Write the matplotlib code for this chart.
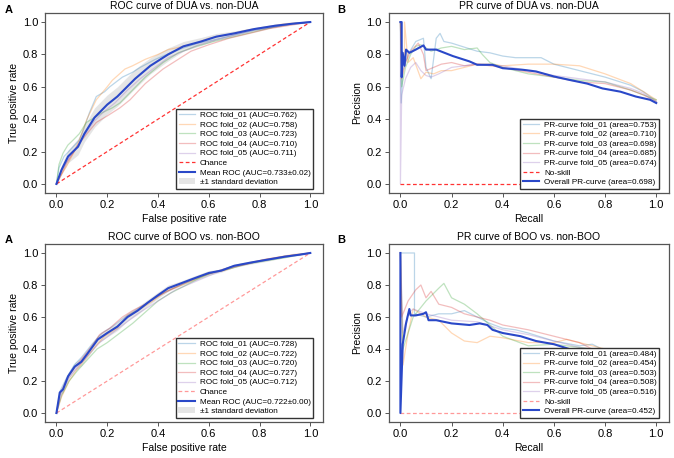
import numpy as np
from matplotlib import pyplot as plt

plt.rcParams['font.family'] = ['Liberation Sans', 'DejaVu Sans']

fold_colors = ['tab:blue', 'tab:orange', 'tab:green', 'tab:red', 'tab:purple']
mean_blue = '#2a48c8'

# ---- ROC, DUA vs non-DUA ----
dua_roc_auc = [0.762, 0.758, 0.723, 0.710, 0.711]
dua_roc_fpr = [
    [0, .01, .03, .06, .09, .11, .13, .157, .19, .21, .26, .3, .33, .39, .45, .5, .56, .62, .7, .78, .86, .93, 1],
    [0, .02, .04, .07, .09, .12, .157, .2, .22, .27, .3, .35, .4, .44, .5, .55, .6, .67, .75, .83, .9, 1],
    [0, .01, .026, .045, .065, .09, .118, .15, .18, .22, .25, .3, .35, .42, .48, .55, .62, .7, .78, .86, .93, 1],
    [0, .02, .04, .07, .09, .12, .157, .2, .22, .25, .29, .32, .35, .42, .48, .53, .6, .68, .76, .84, .92, 1],
    [0, .02, .05, .08, .11, .15, .19, .23, .28, .33, .38, .44, .5, .56, .63, .7, .78, .86, .93, 1],
]
dua_roc_tpr = [
    [0, .1, .17, .22, .27, .35, .44, .54, .57, .6, .66, .69, .72, .77, .81, .84, .87, .89, .92, .95, .97, .99, 1],
    [0, .06, .11, .2, .27, .4, .52, .6, .64, .71, .73, .77, .8, .83, .85, .87, .9, .92, .95, .97, .99, 1],
    [0, .12, .19, .24, .27, .31, .38, .41, .44, .47, .5, .58, .66, .75, .81, .85, .88, .91, .94, .97, .99, 1],
    [0, .06, .13, .2, .25, .31, .38, .42, .44, .47, .52, .57, .62, .71, .77, .82, .86, .9, .93, .96, .98, 1],
    [0, .08, .16, .23, .3, .39, .45, .5, .58, .65, .71, .78, .82, .86, .89, .92, .95, .97, .99, 1],
]
dua_mean_fpr = [0, .02, .046, .085, .11, .15, .2, .24, .31, .37, .44, .5, .57, .63, .7, .78, .86, .93, 1]
dua_mean_tpr = [0, .087, .17, .23, .31, .41, .49, .54, .65, .73, .80, .85, .88, .91, .93, .957, .977, .99, 1]
dua_std_tpr = [0, .03, .04, .05, .05, .06, .06, .06, .06, .05, .04, .03, .025, .02, .015, .01, .01, .005, 0]

# ---- ROC, BOO vs non-BOO ----
boo_roc_auc = [0.728, 0.722, 0.720, 0.727, 0.712]
boo_roc_fpr = [
    [0, .015, .04, .07, .1, .14, .18, .22, .27, .31, .36, .41, .46, .52, .58, .64, .7, .77, .84, .9, .96, 1],
    [0, .02, .05, .08, .11, .15, .19, .24, .28, .33, .38, .43, .48, .54, .6, .66, .72, .79, .86, .93, 1],
    [0, .02, .05, .08, .12, .16, .2, .25, .3, .35, .4, .45, .5, .56, .62, .68, .75, .82, .9, .96, 1],
    [0, .015, .04, .07, .1, .14, .17, .21, .26, .3, .35, .4, .45, .5, .56, .62, .68, .75, .82, .9, .96, 1],
    [0, .02, .05, .09, .13, .17, .22, .27, .32, .37, .42, .47, .53, .59, .65, .72, .8, .88, .95, 1],
]
boo_roc_tpr = [
    [0, .14, .22, .3, .35, .43, .5, .54, .6, .64, .69, .74, .78, .82, .86, .89, .92, .94, .96, .98, .99, 1],
    [0, .1, .2, .27, .33, .41, .48, .53, .61, .65, .7, .76, .79, .83, .87, .89, .92, .95, .97, .99, 1],
    [0, .11, .2, .26, .33, .4, .44, .5, .56, .63, .7, .75, .79, .84, .88, .9, .93, .95, .97, .99, 1],
    [0, .12, .21, .28, .34, .42, .49, .53, .6, .64, .68, .73, .77, .81, .85, .88, .91, .93, .96, .98, .99, 1],
    [0, .12, .22, .3, .37, .44, .5, .56, .62, .67, .72, .77, .81, .85, .89, .92, .95, .97, .99, 1],
]
boo_mean_fpr = [0, .013, .026, .046, .072, .098, .124, .163, .2, .24, .28, .32, .36, .40, .44, .49, .54, .6, .65, .7, .765, .83, .9, .96, 1]
boo_mean_tpr = [0, .128, .148, .23, .29, .32, .375, .46, .5, .54, .6, .64, .69, .736, .78, .81, .84, .875, .89, .92, .94, .958, .977, .99, 1]
boo_std_tpr = [0, .015, .02, .02, .025, .025, .025, .025, .025, .025, .025, .025, .02, .02, .02, .015, .015, .015, .01, .01, .01, .01, .005, .005, 0]

# ---- PR, DUA vs non-DUA ----
dua_pr_area = [0.753, 0.710, 0.698, 0.685, 0.674]
dua_pr_rec = [
    [0, .003, .01, .03, .06, .09, .1, .12, .14, .155, .17, .2, .24, .3, .35, .4, .45, .5, .55, .6, .7, .8, .9, .95, 1],
    [0, .005, .016, .016, .03, .05, .08, .1, .13, .16, .2, .25, .3, .35, .4, .5, .6, .7, .8, .9, .95, 1],
    [0, .005, .02, .04, .06, .08, .12, .16, .2, .25, .3, .32, .35, .4, .45, .5, .6, .7, .8, .9, .95, 1],
    [0, .005, .02, .04, .07, .09, .1, .13, .16, .2, .25, .3, .4, .5, .6, .7, .8, .9, .95, 1],
    [0, 0, .005, .02, .04, .06, .08, .1, .12, .15, .2, .25, .3, .4, .5, .6, .7, .8, .9, .95, 1],
]
dua_pr_prec = [
    [1, .5, .7, .8, .88, .9, .72, .65, .9, .93, .88, .87, .85, .82, .81, .79, .78, .78, .78, .74, .70, .66, .61, .57, .51],
    [1, .7, .8, 1.0, .75, .78, .65, .69, .68, .7, .7, .72, .74, .74, .73, .74, .74, .73, .68, .62, .57, .52],
    [1, .6, .72, .8, .85, .86, .82, .84, .85, .83, .84, .8, .75, .72, .7, .68, .66, .64, .63, .58, .55, .52],
    [1, .65, .75, .82, .87, .8, .7, .72, .74, .75, .73, .74, .72, .69, .66, .63, .62, .58, .55, .51],
    [1, 0, .55, .65, .72, .75, .7, .67, .66, .68, .72, .73, .74, .73, .7, .67, .65, .63, .59, .56, .5],
]
dua_all_area = 0.698
dua_all_rec = [0, .005, .005, .009, .016, .022, .035, .06, .09, .10, .14, .205, .27, .30, .36, .40, .48, .53, .60, .66, .73, .79, .86, .92, .976, 1]
dua_all_prec = [1, 1, .66, .81, .73, .83, .81, .83, .856, .83, .83, .79, .757, .736, .736, .715, .705, .695, .664, .643, .62, .59, .57, .54, .52, .50]

# ---- PR, BOO vs non-BOO ----
boo_pr_area = [0.484, 0.454, 0.503, 0.508, 0.516]
boo_pr_rec = [
    [0, .055, .055, .1, .15, .2, .25, .3, .35, .4, .45, .5, .6, .7, .75, .8, .9, 1],
    [0, .01, .03, .05, .1, .15, .2, .25, .3, .35, .4, .5, .6, .65, .7, .8, .9, 1],
    [0, .01, .05, .1, .15, .17, .2, .25, .3, .35, .4, .45, .5, .6, .7, .8, .9, 1],
    [0, .005, .03, .06, .08, .1, .12, .15, .2, .25, .3, .35, .4, .5, .6, .7, .75, .8, .9, 1],
    [0, .01, .03, .05, .1, .15, .2, .3, .4, .5, .6, .7, .8, .85, .9, 1],
]
boo_pr_prec = [
    [1, 1, .62, .6, .62, .62, .64, .6, .56, .53, .52, .5, .45, .42, .43, .39, .37, .36],
    [1, .3, .5, .65, .6, .58, .5, .45, .44, .48, .47, .44, .44, .46, .44, .4, .38, .36],
    [1, .4, .6, .7, .78, .81, .72, .68, .62, .55, .48, .45, .42, .43, .41, .39, .37, .36],
    [1, .6, .7, .77, .8, .72, .76, .68, .66, .62, .6, .58, .55, .52, .48, .44, .40, .39, .37, .36],
    [1, .5, .62, .65, .62, .6, .58, .57, .52, .49, .45, .41, .39, .39, .37, .36],
]
boo_all_area = 0.452
boo_all_rec = [0, 0, .009, .022, .035, .04, .06, .09, .1, .11, .14, .2, .27, .31, .34, .36, .4, .47, .53, .6, .66, .73, .8, .9, 1]
boo_all_prec = [1, 0, .43, .56, .65, .61, .61, .62, .63, .58, .58, .56, .55, .56, .55, .52, .50, .48, .45, .43, .40, .375, .37, .36, .35]


def style_axes(ax, title, xlabel, ylabel):
    ax.set_xlim(-0.045, 1.05)
    ax.set_ylim(-0.056, 1.056)
    ax.set_xticks([0, 0.2, 0.4, 0.6, 0.8, 1.0])
    ax.set_yticks([0, 0.2, 0.4, 0.6, 0.8, 1.0])
    ax.set_title(title, fontsize=7.5, pad=3)
    ax.set_xlabel(xlabel, fontsize=7.5, labelpad=3)
    ax.set_ylabel(ylabel, fontsize=7.5, labelpad=3)
    ax.tick_params(labelsize=8, length=3, width=0.7, color='#555555', pad=2)
    for s in ax.spines.values():
        s.set_color('#555555')
        s.set_linewidth(0.9)


def add_legend(ax):
    ax.legend(loc='lower right', bbox_to_anchor=(0.965, 0.025), borderaxespad=0,
              fontsize=5.9, labelspacing=0.22, fancybox=False,
              edgecolor='#333333', framealpha=1, borderpad=0.3, handletextpad=0.6)


def roc_panel(ax, title, fprs, tprs, aucs, mfpr, mtpr, mstd, chance_alpha):
    for i in range(5):
        ax.plot(fprs[i], tprs[i], lw=0.9, color=fold_colors[i], alpha=0.3,
                label='ROC fold_%02d (AUC=%.3f)' % (i + 1, aucs[i]))
    ax.plot([0, 1], [0, 1], ls=(0, (3, 2)), lw=0.9, color='r', alpha=chance_alpha, label='Chance')
    mtpr = np.array(mtpr)
    mstd = np.array(mstd)
    ax.plot(mfpr, mtpr, color=mean_blue, lw=1.5, label=title[1])
    ax.fill_between(mfpr, np.maximum(mtpr - mstd, 0), np.minimum(mtpr + mstd, 1),
                    color='grey', alpha=0.2, lw=0, label='±1 standard deviation')
    style_axes(ax, title[0], 'False positive rate', 'True positive rate')
    add_legend(ax)


def pr_panel(ax, title, recs, precs, areas, arec, aprec, aarea, ns_alpha):
    for i in range(5):
        ax.plot(recs[i], precs[i], lw=0.9, color=fold_colors[i], alpha=0.3,
                label='PR-curve fold_%02d (area=%.3f)' % (i + 1, areas[i]))
    ax.plot([0, 1], [0, 0], ls=(0, (3, 2)), lw=0.9, color='r', alpha=ns_alpha, label='No-skill')
    ax.plot(arec, aprec, color=mean_blue, lw=1.5, label='Overall PR-curve (area=%.3f)' % aarea)
    style_axes(ax, title, 'Recall', 'Precision')
    add_legend(ax)


fig = plt.figure(figsize=(6.74, 4.58), dpi=100)
ax1 = fig.add_axes([0.0668, 0.5786, 0.4124, 0.393])
ax2 = fig.add_axes([0.577, 0.5786, 0.4156, 0.393])
ax3 = fig.add_axes([0.0668, 0.0786, 0.4124, 0.3886])
ax4 = fig.add_axes([0.577, 0.0786, 0.4156, 0.3886])

roc_panel(ax1, ('ROC curve of DUA vs. non-DUA', 'Mean ROC (AUC=0.733±0.02)'),
          dua_roc_fpr, dua_roc_tpr, dua_roc_auc, dua_mean_fpr, dua_mean_tpr, dua_std_tpr, 0.8)
pr_panel(ax2, 'PR curve of DUA vs. non-DUA', dua_pr_rec, dua_pr_prec, dua_pr_area,
         dua_all_rec, dua_all_prec, dua_all_area, 0.8)
roc_panel(ax3, ('ROC curve of BOO vs. non-BOO', 'Mean ROC (AUC=0.722±0.00)'),
          boo_roc_fpr, boo_roc_tpr, boo_roc_auc, boo_mean_fpr, boo_mean_tpr, boo_std_tpr, 0.4)
pr_panel(ax4, 'PR curve of BOO vs. non-BOO', boo_pr_rec, boo_pr_prec, boo_pr_area,
         boo_all_rec, boo_all_prec, boo_all_area, 0.4)

for x, y, s in [(0.007, 0.978, 'A'), (0.50, 0.978, 'B'), (0.007, 0.475, 'A'), (0.50, 0.475, 'B')]:
    fig.text(x, y, s, fontsize=8, fontweight='bold', va='center', ha='left')

fig.savefig('out.png', dpi=100)
